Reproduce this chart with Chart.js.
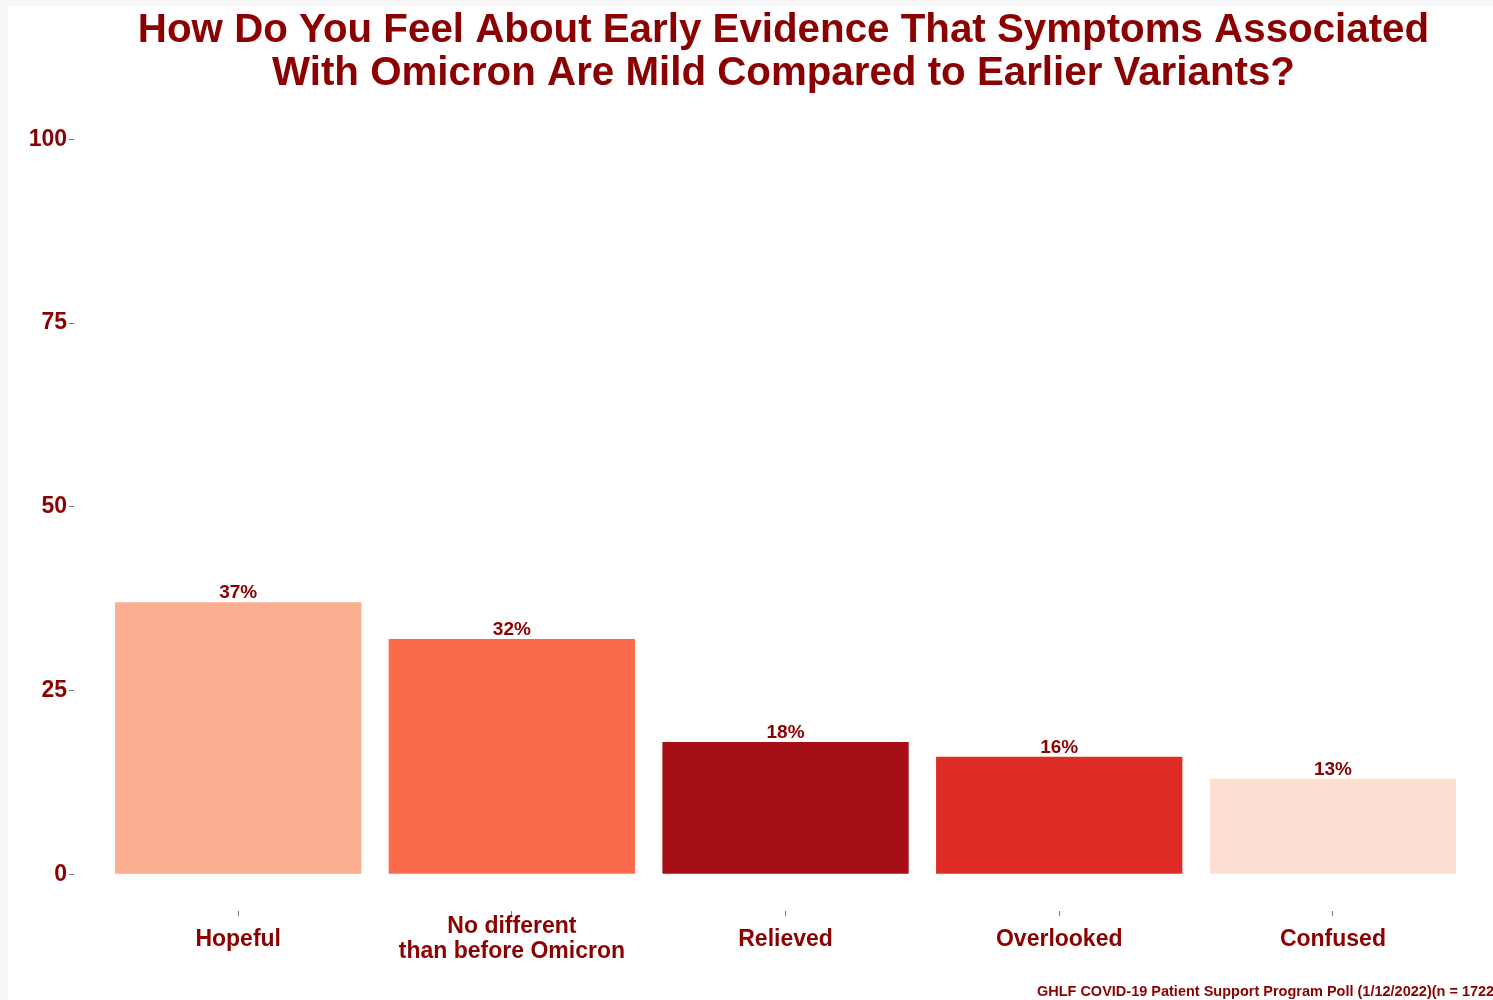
<!DOCTYPE html>
<html>
<head>
<meta charset="utf-8">
<script src="https://cdn.jsdelivr.net/npm/chart.js@4/dist/chart.umd.min.js"></script>
<style>
  html, body { margin: 0; padding: 0; background: #fff; }
  #wrap { width: 1493px; height: 1000px; }
</style>
</head>
<body>
<div id="wrap"><canvas id="chart" width="1493" height="1000"></canvas></div>
<script>
const categories = ['Hopeful', ['No different', 'than before Omicron'], 'Relieved', 'Overlooked', 'Confused'];
const percents = [37, 32, 18, 16, 13];
const barColors = ['#FCAE91', '#FB6A4A', '#A50F15', '#DE2D26', '#FEE0D2'];
const yTicks = [0, 25, 50, 75, 100];
const caption = 'GHLF COVID-19 Patient Support Program Poll (1/12/2022)(n = 1722)';
const darkred = '#8B0000';

// ggplot-like look: white page with a faint strip on the left and top
const background = {
    id: 'background',
    beforeDraw(chart) {
        const ctx = chart.ctx;
        ctx.save();
        ctx.fillStyle = '#fff';
        ctx.fillRect(0, 0, chart.width, chart.height);
        ctx.fillStyle = '#f6f6f6';
        ctx.fillRect(0, 0, 8, chart.height);
        ctx.fillRect(0, 0, chart.width, 6);
        ctx.restore();
    }
};

// percent labels above bars + source caption
const barLabels = {
    id: 'barLabels',
    afterDatasetsDraw(chart) {
        const ctx = chart.ctx;
        const meta = chart.getDatasetMeta(0);
        ctx.save();
        ctx.fillStyle = darkred;
        ctx.font = 'bold 19px "Liberation Sans", Arial, sans-serif';
        ctx.textAlign = 'center';
        ctx.textBaseline = 'alphabetic';
        meta.data.forEach((bar, i) => {
            ctx.fillText(percents[i] + '%', bar.x, bar.y - 4);
        });
        ctx.font = 'bold 14.5px "Liberation Sans", Arial, sans-serif';
        ctx.textAlign = 'right';
        ctx.fillText(caption, chart.width + 6, 996);
        ctx.restore();
    }
};

new Chart(document.getElementById('chart'), {
    type: 'bar',
    data: {
        datasets: [{
            data: percents.map((v, i) => ({ x: i + 1, y: v })),
            backgroundColor: barColors,
            borderWidth: 0,
            barPercentage: 0.9,
            categoryPercentage: 1
        }]
    },
    options: {
        responsive: false,
        animation: false,
        layout: { padding: { left: 0, right: 0, top: 0, bottom: 0 } },
        plugins: {
            legend: { display: false },
            tooltip: { enabled: false },
            title: {
                display: true,
                fullSize: false,
                text: ['How Do You Feel About Early Evidence That Symptoms Associated',
                       'With Omicron Are Mild Compared to Earlier Variants?'],
                color: darkred,
                font: { family: '"Liberation Sans", Arial, sans-serif', size: 40.3, weight: 'bold', lineHeight: 1.05 },
                padding: { top: 10, bottom: 8 }
            }
        },
        scales: {
            x: {
                type: 'linear',
                offset: false,
                min: 0.4,
                max: 5.585,
                afterBuildTicks(scale) {
                    scale.ticks = categories.map((c, i) => ({ value: i + 1 }));
                },
                afterFit(scale) { scale.height = 89; },
                border: { display: false },
                grid: { offset: false, drawOnChartArea: false, tickLength: 5, color: '#777', tickColor: '#777' },
                ticks: {
                    autoSkip: false,
                    maxRotation: 0,
                    crossAlign: 'center',
                    padding: 11,
                    color: darkred,
                    font: { family: '"Liberation Sans", Arial, sans-serif', size: 23, weight: 'bold', lineHeight: 1.07 },
                    callback: v => categories[v - 1]
                }
            },
            y: {
                min: -5,
                max: 105,
                afterBuildTicks(scale) {
                    scale.ticks = yTicks.map(v => ({ value: v }));
                },
                afterFit(scale) { scale.width = 74; },
                border: { display: false },
                grid: { drawOnChartArea: false, tickLength: 5, color: '#777', tickColor: '#777' },
                ticks: {
                    padding: 2,
                    color: darkred,
                    font: { family: '"Liberation Sans", Arial, sans-serif', size: 23, weight: 'bold' }
                }
            }
        }
    },
    plugins: [background, barLabels]
});
</script>
</body>
</html>
